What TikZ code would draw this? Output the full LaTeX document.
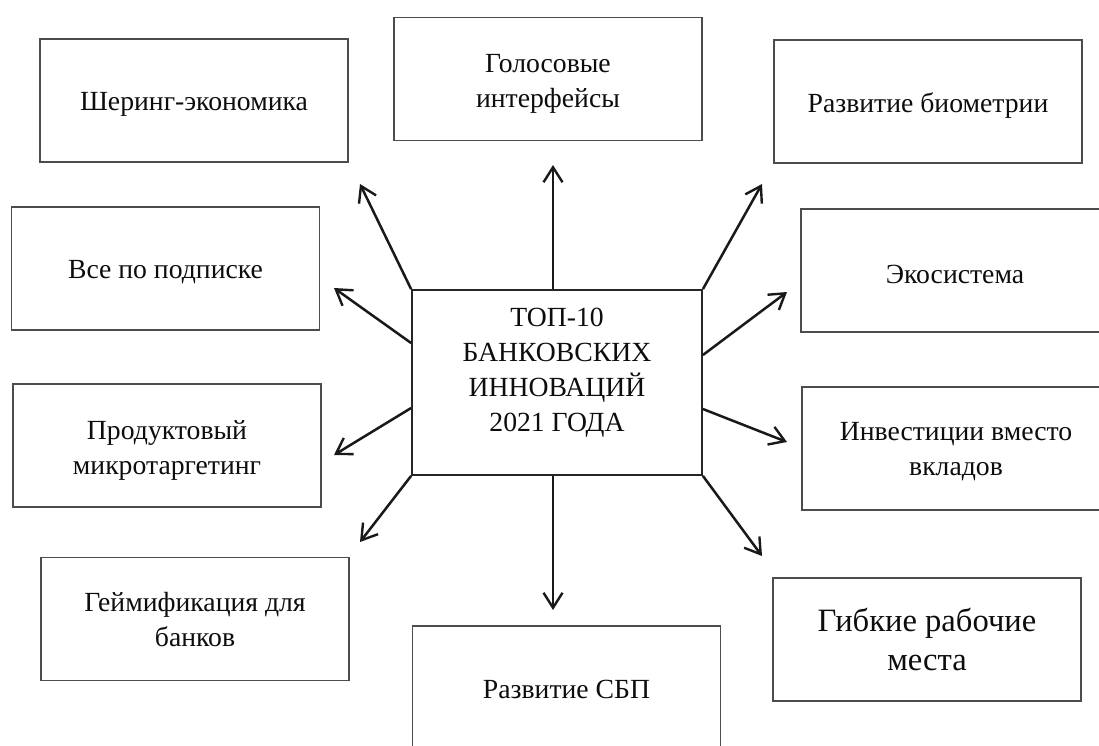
\documentclass[tikz,border=0pt]{standalone}
\usepackage{fontspec}
\setmainfont{Liberation Serif}
\usetikzlibrary{arrows.meta,calc}
\begin{document}
\begin{tikzpicture}[x=1pt,y=-1pt,
  itembox/.style={draw=black!70,line width=1.4pt,minimum width=308pt,minimum height=123pt,inner sep=0pt},
  itemtext/.style={align=center,inner sep=0pt,text=black!95,font=\fontsize{27.7}{35}\selectfont},
  bigtext/.style={itemtext,font=\fontsize{32.6}{39}\selectfont},
  hubbox/.style={draw=black!85,line width=1.8pt,minimum width=290pt,minimum height=185pt,inner sep=0pt},
  hubtext/.style={align=center,inner sep=0pt,text=black!95,font=\fontsize{27.7}{35}\selectfont},
  conn/.style={line width=2.5pt,black!90,-{Straight Barb[length=15pt,width=19pt,line width=2.4pt]}}
]
\useasboundingbox[fill=white] (0,0) rectangle (1099,745);

% boxes
\node[itembox] (sher)  at (194,100.5) {};
\node[itembox] (golos) at (548,79) {};
\node[itembox] (bio)   at (928,101.5) {};
\node[itembox] (vse)   at (165.5,268.5) {};
\node[itembox] (eco)   at (955,270.5) {};
\node[itembox] (prod)  at (167,445.5) {};
\node[itembox] (inv)   at (956,448.5) {};
\node[itembox] (game)  at (195,619) {};
\node[itembox] (sbp)   at (566.5,687.5) {};
\node[itembox] (gib)   at (927,639.5) {};

% texts
\node[itemtext,yshift=-4pt] (sher-t)  at (sher)  {Шеринг-экономика};
\node[itemtext,yshift=-5pt] (golos-t) at (golos) {Голосовые\\интерфейсы};
\node[itemtext,yshift=-4pt] (bio-t)   at (bio)   {Развитие биометрии};
\node[itemtext,yshift=-4pt] (vse-t)   at (vse)   {Все по подписке};
\node[itemtext,yshift=-4pt] (eco-t)   at (eco)   {Экосистема};
\node[itemtext,yshift=-5pt] (prod-t)  at (prod)  {Продуктовый\\микротаргетинг};
\node[itemtext,yshift=-3.5pt] (inv-t) at (inv)   {Инвестиции вместо\\вкладов};
\node[itemtext,yshift=-1pt] (game-t)  at (game)  {Геймификация для\\банков};
\node[itemtext,yshift=-2pt] (sbp-t)   at (sbp)   {Развитие СБП};
\node[bigtext] (gib-t) at (gib) {Гибкие рабочие\\места};

% hub
\node[hubbox] (c) at (557,382.5) {};
\node[hubtext] (ctext) at (557,373) {ТОП-10\\БАНКОВСКИХ\\ИННОВАЦИЙ\\2021 ГОДА};

% arrow tips
\coordinate (tul) at (360,184);
\coordinate (tup) at (553,165);
\coordinate (tur) at (762,184);
\coordinate (tlu) at (334,288);
\coordinate (tru) at (787,292);
\coordinate (tll) at (334,455);
\coordinate (trl) at (787,442);
\coordinate (tbl) at (360,542);
\coordinate (tdn) at (553,610);
\coordinate (tbr) at (762,556);

% connectors
\draw[conn] (c.north west) -- (tul);
\draw[conn] (c.north -| tup) -- (tup);
\draw[conn] (c.north east) -- (tur);
\draw[conn] ([yshift=39.5pt]c.west) -- (tlu);
\draw[conn] ([yshift=27.5pt]c.east) -- (tru);
\draw[conn] ([yshift=-25.5pt]c.west) -- (tll);
\draw[conn] ([yshift=-26.5pt]c.east) -- (trl);
\draw[conn] (c.south west) -- (tbl);
\draw[conn] (c.south -| tdn) -- (tdn);
\draw[conn] (c.south east) -- (tbr);
\end{tikzpicture}
\end{document}
